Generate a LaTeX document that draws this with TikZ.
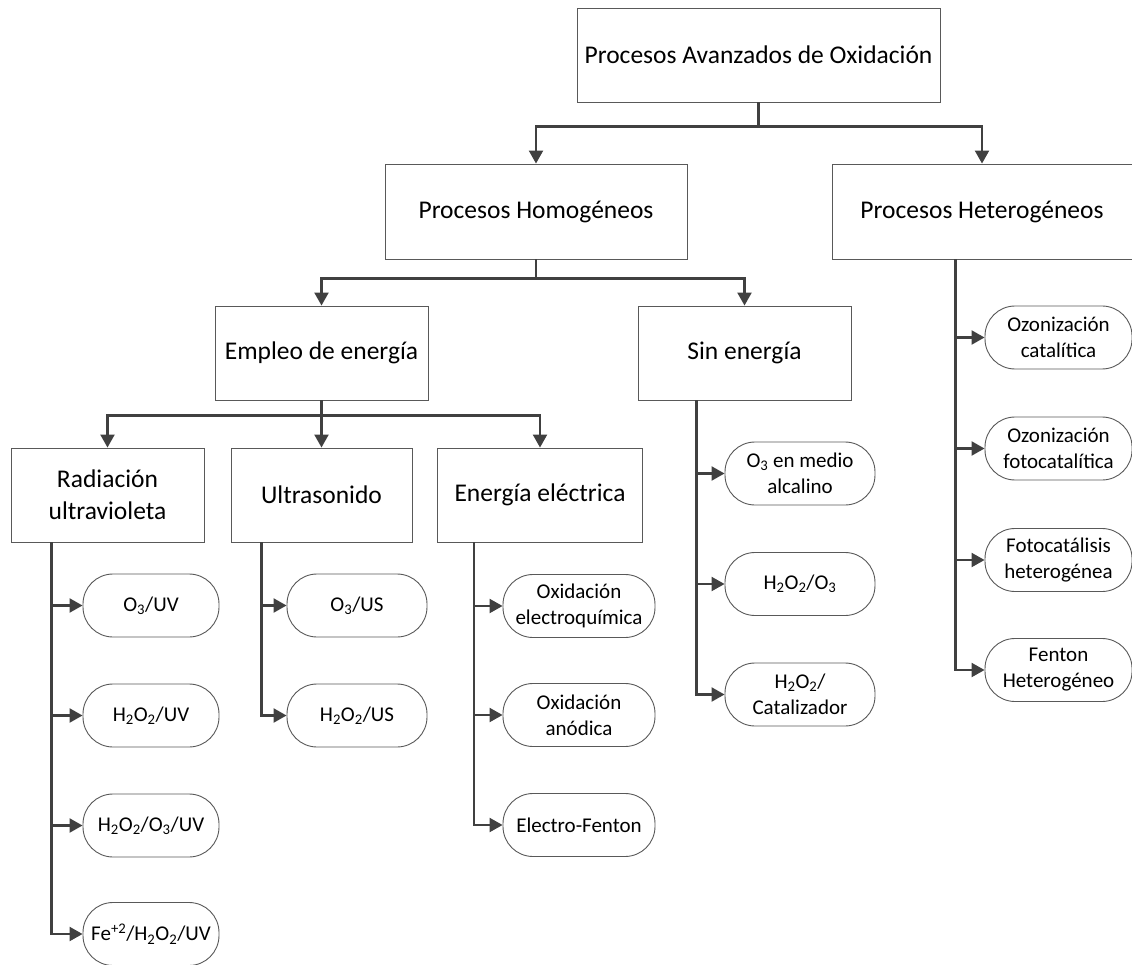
\documentclass[tikz,border=0pt]{standalone}
\usepackage{fontspec}
\setmainfont{Carlito}
\usetikzlibrary{arrows.meta}
\newcommand{\sub}[1]{\textsubscript{#1}}
\newcommand{\super}[1]{\textsuperscript{#1}}
\tikzset{
  procbox/.style={draw=black!65, line width=0.9pt, fill=white, rectangle,
    inner sep=0pt, align=center, font=\fontsize{25.5}{32}\selectfont},
  techpill/.style={draw=black!65, line width=0.9pt, fill=white, rectangle,
    rounded corners=30pt, minimum height=63pt, inner sep=0pt, align=center,
    font=\fontsize{21}{26}\selectfont},
  conn/.style={draw=black!75, line width=2.2pt, -{Triangle[length=13pt,width=14pt]}},
}
\begin{document}
\begin{tikzpicture}[x=1pt,y=-1pt]
 \useasboundingbox (0,0) rectangle (1132,965);
 % boxes
 \node[procbox, minimum width=363pt, minimum height=94pt] (pao) at (758.5,55) {Procesos Avanzados de Oxidación};
 \node[procbox, minimum width=302pt, minimum height=95pt] (homo) at (536,211.5) {Procesos Homogéneos};
 \node[procbox, minimum width=300pt, minimum height=95pt] (hetero) at (982,211.5) {Procesos Heterogéneos};
 \node[procbox, minimum width=213pt, minimum height=94pt] (emp) at (321.5,353) {Empleo de energía};
 \node[procbox, minimum width=213pt, minimum height=94pt] (sin) at (744.5,353) {Sin energía};
 \node[procbox, minimum width=193pt, minimum height=94pt] (rad) at (107.5,495) {Radiación\\ultravioleta};
 \node[procbox, minimum width=181pt, minimum height=94pt] (ultra) at (321.5,495) {Ultrasonido};
 \node[procbox, minimum width=205pt, minimum height=94pt] (elec) at (540,495) {Energía eléctrica};
 % pills
 \node[techpill, minimum width=136pt] (rad1) at (151,605.5) {O\sub{3}/UV};
 \node[techpill, minimum width=136pt] (rad2) at (151,715.5) {H\sub{2}O\sub{2}/UV};
 \node[techpill, minimum width=136pt] (rad3) at (151,825.5) {H\sub{2}O\sub{2}/O\sub{3}/UV};
 \node[techpill, minimum width=136pt] (rad4) at (151,934) {Fe\super{+2}/H\sub{2}O\sub{2}/UV};
 \node[techpill, minimum width=140pt] (ultra1) at (357,605.5) {O\sub{3}/US};
 \node[techpill, minimum width=140pt] (ultra2) at (357,715.5) {H\sub{2}O\sub{2}/US};
 \node[techpill, minimum width=152pt] (elec1) at (579,606) {Oxidación\\electroquímica};
 \node[techpill, minimum width=152pt] (elec2) at (579,715) {Oxidación\\anódica};
 \node[techpill, minimum width=152pt] (elec3) at (579,825) {Electro-Fenton};
 \node[techpill, minimum width=150pt] (sin1) at (800,473.5) {O\sub{3} en medio\\alcalino};
 \node[techpill, minimum width=150pt] (sin2) at (800,584) {H\sub{2}O\sub{2}/O\sub{3}};
 \node[techpill, minimum width=150pt] (sin3) at (800,694.5) {H\sub{2}O\sub{2}/\\Catalizador};
 \node[techpill, minimum width=147pt] (het1) at (1058.5,337.5) {Ozonización\\catalítica};
 \node[techpill, minimum width=147pt] (het2) at (1058.5,448.5) {Ozonización\\fotocatalítica};
 \node[techpill, minimum width=147pt] (het3) at (1058.5,560) {Fotocatálisis\\heterogénea};
 \node[techpill, minimum width=147pt] (het4) at (1058.5,670) {Fenton\\Heterogéneo};
 % tree connectors
 \draw[conn] (pao.south) -- ++(0,24) -| (homo.north);
 \draw[conn] (pao.south) -- ++(0,24) -| (hetero.north);
 \draw[conn] (homo.south) -- ++(0,19) -| (emp.north);
 \draw[conn] (homo.south) -- ++(0,19) -| (sin.north);
 \foreach \b in {rad,ultra,elec}
   \draw[conn] (emp.south) -- ++(0,15) -| (\b.north);
 % side buses
 \foreach \p in {rad1,rad2,rad3,rad4}
   \draw[conn] ([xshift=41pt]rad.south west) |- (\p.west);
 \foreach \p in {ultra1,ultra2}
   \draw[conn] ([xshift=31pt]ultra.south west) |- (\p.west);
 \foreach \p in {elec1,elec2,elec3}
   \draw[conn] ([xshift=37pt]elec.south west) |- (\p.west);
 \foreach \p in {sin1,sin2,sin3}
   \draw[conn] ([xshift=59pt]sin.south west) |- (\p.west);
 \foreach \p in {het1,het2,het3,het4}
   \draw[conn] ([xshift=124pt]hetero.south west) |- (\p.west);
\end{tikzpicture}
\end{document}
